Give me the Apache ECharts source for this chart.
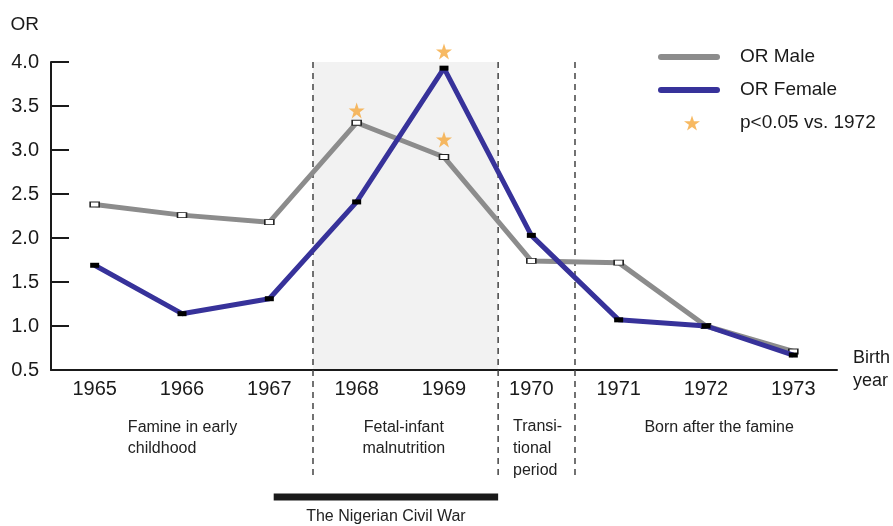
<!DOCTYPE html>
<html>
<head>
<meta charset="utf-8">
<script src="https://cdn.jsdelivr.net/npm/echarts@6/dist/echarts.min.js"></script>
<style>
  html, body { margin: 0; padding: 0; background: #fff; }
  #chart { width: 893px; height: 526px; }
</style>
</head>
<body>
<div id="chart"></div>
<script>
// Birth cohorts and odds ratios
const years = ['1965', '1966', '1967', '1968', '1969', '1970', '1971', '1972', '1973'];
const orMale = [2.38, 2.26, 2.18, 3.31, 2.92, 1.74, 1.72, 1.00, 0.71];
const orFemale = [1.69, 1.14, 1.31, 2.41, 3.93, 2.03, 1.07, 1.00, 0.67];
// significance stars (p<0.05 vs. 1972), drawn just above the marked points
const sigStars = [['1968', 3.45], ['1969', 4.12], ['1969', 3.12]];

// value axis
const yMin = 0.5;
const yMax = 4.0;
const yStep = 0.5;

// exposure periods on a continuous birth-year scale
const yearScaleMin = 1964.5;
const yearScaleMax = 1973.5;
const periodBounds = [1967.5, 1969.62, 1970.5];
const warSpan = [1967.05, 1969.62];
const periodTexts = ['Famine in early\nchildhood', 'Fetal-infant\nmalnutrition', 'Transi-\ntional\nperiod', 'Born after the famine'];
const warText = 'The Nigerian Civil War';

const FONT = 'Liberation Sans, Arial, Helvetica, sans-serif';
const INK = '#1a1a1a';
const MALE = '#8c8c8c';
const FEMALE = '#37329a';
const STAR = '#f5a73b';
const STAR_PATH = 'path://M50,0 L61.8,35.1 L98.9,35.1 L68.9,56.8 L80.2,91.9 L50,70.2 L19.8,91.9 L31.1,56.8 L1.1,35.1 L38.2,35.1 Z';
const BAR_PATH = 'path://M3,0 L59,0 A3,3 0 0 1 59,6 L3,6 A3,3 0 0 1 3,0 Z';

const chart = echarts.init(document.getElementById('chart'), null, { renderer: 'canvas' });

chart.setOption({
  animation: false,
  backgroundColor: '#fff',
  textStyle: { fontFamily: FONT, color: INK },
  grid: { left: 51, right: 56, top: 62, bottom: 156, containLabel: false },
  legend: [
    {
      orient: 'vertical',
      left: 653,
      top: 41,
      itemWidth: 62,
      itemHeight: 6,
      itemGap: 11,
      icon: BAR_PATH,
      textStyle: { fontSize: 19, color: INK, fontFamily: FONT, lineHeight: 22, padding: [0, 0, 0, 15] },
      data: [
        { name: 'OR Male', itemStyle: { color: MALE, borderWidth: 0 } },
        { name: 'OR Female', itemStyle: { color: FEMALE, borderWidth: 0 } }
      ]
    },
    {
      orient: 'vertical',
      left: 679,
      top: 107,
      itemWidth: 16,
      itemHeight: 16,
      icon: STAR_PATH,
      textStyle: { fontSize: 19, color: INK, fontFamily: FONT, lineHeight: 22, padding: [0, 0, 0, 35] },
      data: [{ name: 'p<0.05 vs. 1972', itemStyle: { color: STAR, borderWidth: 0 } }]
    }
  ],
  xAxis: [
    {
      type: 'category',
      data: years,
      boundaryGap: true,
      name: 'Birth\nyear',
      nameLocation: 'end',
      nameGap: 16,
      nameTextStyle: { fontSize: 18, color: INK, fontFamily: FONT, align: 'left', lineHeight: 23, padding: [7, 0, 0, 0] },
      axisLine: { lineStyle: { color: INK, width: 2 } },
      axisTick: { inside: true, length: 8, lineStyle: { color: INK, width: 2 } },
      axisLabel: { fontSize: 20, color: INK, fontFamily: FONT, margin: 9 },
      splitLine: { show: false }
    },
    {
      type: 'value',
      min: yearScaleMin,
      max: yearScaleMax,
      show: false,
      splitLine: { show: false }
    }
  ],
  yAxis: {
    type: 'value',
    min: yMin,
    max: yMax,
    interval: yStep,
    name: 'OR',
    nameLocation: 'end',
    nameGap: 28,
    nameTextStyle: { fontSize: 19, color: INK, fontFamily: FONT, align: 'right', padding: [0, 12, 0, 0] },
    axisLine: { show: true, lineStyle: { color: INK, width: 2 } },
    axisTick: { show: true, inside: true, length: 18, lineStyle: { color: INK, width: 2 } },
    axisLabel: { fontSize: 20, color: INK, fontFamily: FONT, margin: 12, formatter: v => v.toFixed(1) },
    splitLine: { show: false }
  },
  series: [
    {
      name: 'OR Male',
      type: 'line',
      data: orMale,
      z: 3,
      symbol: 'rect',
      symbolSize: [9, 5],
      showAllSymbol: true,
      lineStyle: { color: MALE, width: 5 },
      itemStyle: { color: '#ffffff', borderColor: '#222', borderWidth: 1.2 }
    },
    {
      name: 'OR Female',
      type: 'line',
      data: orFemale,
      z: 4,
      symbol: 'rect',
      symbolSize: [9, 5],
      showAllSymbol: true,
      lineStyle: { color: FEMALE, width: 5 },
      itemStyle: { color: '#000000', borderWidth: 0 }
    },
    {
      name: 'p<0.05 vs. 1972',
      type: 'scatter',
      data: sigStars,
      z: 5,
      clip: false,
      symbol: STAR_PATH,
      symbolSize: 16,
      itemStyle: { color: STAR }
    }
  ]
});

// Period annotations placed on the continuous birth-year scale
const xPx = v => chart.convertToPixel({ xAxisIndex: 1 }, v);
const yPx = v => chart.convertToPixel({ yAxisIndex: 0 }, v);
const yTop = yPx(yMax);
const yBottom = yPx(yMin);
const dashBottom = 475;

const textStyle = (extra) => Object.assign({ fill: '#222', font: '16px ' + FONT, lineHeight: 21 }, extra);

const graphics = [
  {
    type: 'rect',
    z: 0,
    silent: true,
    shape: { x: xPx(periodBounds[0]), y: yTop, width: xPx(periodBounds[1]) - xPx(periodBounds[0]), height: yBottom - yTop - 1 },
    style: { fill: '#f2f2f2' }
  }
];
periodBounds.forEach(b => {
  graphics.push({
    type: 'line',
    z: 1,
    silent: true,
    shape: { x1: xPx(b), y1: yTop, x2: xPx(b), y2: dashBottom },
    style: { stroke: '#444', lineWidth: 1.5, lineDash: [6, 5] }
  });
});
graphics.push({
  type: 'rect', z: 1, silent: true,
  shape: { x: xPx(warSpan[0]), y: 493.5, width: xPx(warSpan[1]) - xPx(warSpan[0]), height: 7 },
  style: { fill: '#1a1a1a' }
});
graphics.push({
  type: 'text', z: 1, silent: true,
  x: (xPx(warSpan[0]) + xPx(warSpan[1])) / 2, y: 517,
  style: textStyle({ text: warText, align: 'center', verticalAlign: 'middle' })
});
// period captions
graphics.push({
  type: 'text', z: 1, silent: true, x: xPx(1965.38), y: 417,
  style: textStyle({ text: periodTexts[0], align: 'left', verticalAlign: 'top' })
});
graphics.push({
  type: 'text', z: 1, silent: true, x: xPx(1968.54), y: 417,
  style: textStyle({ text: periodTexts[1], align: 'center', verticalAlign: 'top' })
});
graphics.push({
  type: 'text', z: 1, silent: true, x: xPx(1969.79), y: 416,
  style: textStyle({ text: periodTexts[2], align: 'left', verticalAlign: 'top', lineHeight: 22 })
});
graphics.push({
  type: 'text', z: 1, silent: true, x: xPx(1972.15), y: 417,
  style: textStyle({ text: periodTexts[3], align: 'center', verticalAlign: 'top' })
});

chart.setOption({ graphic: graphics });
</script>
</body>
</html>
